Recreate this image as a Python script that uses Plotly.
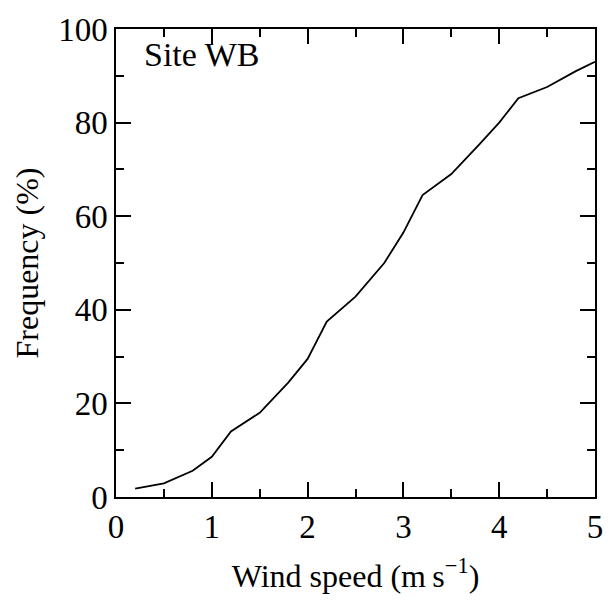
import plotly.graph_objects as go

wind_speed = [0.2, 0.5, 0.8, 1.0, 1.2, 1.5, 1.8, 2.0, 2.2, 2.5, 2.8, 3.0, 3.2, 3.5, 3.8, 4.0, 4.2, 4.5, 4.8, 5.0]
frequency = [1.8, 2.9, 5.6, 8.6, 14.0, 18.0, 24.5, 29.5, 37.5, 42.8, 50.0, 56.5, 64.5, 69.0, 75.5, 80.0, 85.2, 87.6, 91.0, 93.0]
x_ticks = [0, 1, 2, 3, 4, 5]
y_ticks = [0, 20, 40, 60, 80, 100]

FONT = "Liberation Serif, Times New Roman, DejaVu Serif, serif"

fig = go.Figure()
fig.add_trace(go.Scatter(x=wind_speed, y=frequency, mode="lines",
                         line=dict(color="black", width=1.8), showlegend=False))

tick_common = dict(ticks="inside", ticklen=15, tickwidth=2, tickcolor="black",
                   showgrid=False, zeroline=False, showline=True,
                   linecolor="black", linewidth=1.5, mirror="allticks")

fig.update_layout(
    width=615, height=601,
    margin=dict(l=116, r=20, t=20, b=104),
    plot_bgcolor="white", paper_bgcolor="white",
    font=dict(family=FONT, color="black", size=33),
    xaxis=dict(range=[0, 5], tickvals=x_ticks, **tick_common,
               minor=dict(ticks="inside", ticklen=8, tickvals=[0.5, 1.5, 2.5, 3.5, 4.5],
                          tickwidth=2, tickcolor="black"),
               tickfont=dict(size=33, family=FONT),
               title=dict(text="Wind speed (m\u2009s<sup>\u22121</sup>)",
                          font=dict(size=32, family=FONT), standoff=20)),
    yaxis=dict(range=[0, 100], tickvals=y_ticks, **tick_common,
               minor=dict(ticks="inside", ticklen=8, tickvals=[10, 30, 50, 70, 90],
                          tickwidth=2, tickcolor="black"),
               tickfont=dict(size=33, family=FONT),
               title=dict(text="Frequency (%)", font=dict(size=32, family=FONT), standoff=10)),
    annotations=[dict(text="Site WB", x=0.055, y=0.945, xref="paper", yref="paper",
                      xanchor="left", yanchor="middle", showarrow=False,
                      font=dict(size=34, family=FONT))],
)

fig.write_html("out.html", config={"displayModeBar": False},
               post_script="document.body.style.margin='0';")
